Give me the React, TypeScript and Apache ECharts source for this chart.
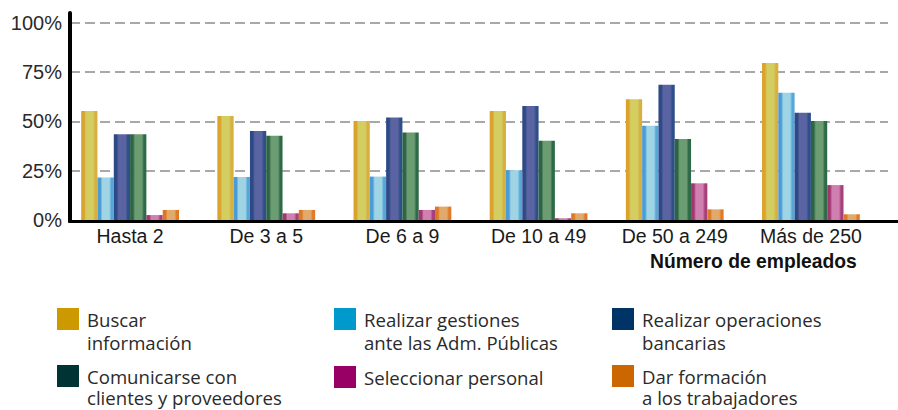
import React, { useEffect, useRef } from 'react';
import * as echarts from 'echarts';

const categories = ['Hasta 2', 'De 3 a 5', 'De 6 a 9', 'De 10 a 49', 'De 50 a 249', 'Más de 250'];
const seriesNames = [
  'Buscar información',
  'Realizar gestiones ante las Adm. Públicas',
  'Realizar operaciones bancarias',
  'Comunicarse con clientes y proveedores',
  'Seleccionar personal',
  'Dar formación a los trabajadores',
];
const legendLabels = [
  'Buscar\ninformación',
  'Realizar gestiones\nante las Adm. Públicas',
  'Realizar operaciones\nbancarias',
  'Comunicarse con\nclientes y proveedores',
  'Seleccionar personal',
  'Dar formación\na los trabajadores',
];
const buscar = [55.2, 52.7, 50.2, 55.2, 61.2, 79.6];
const gestiones = [21.6, 21.8, 22.0, 25.2, 47.8, 64.5];
const operaciones = [43.4, 45.1, 51.9, 57.8, 68.6, 54.4];
const comunicarse = [43.4, 42.7, 44.4, 40.2, 41.1, 50.2];
const seleccionar = [2.5, 3.4, 5.1, 0.9, 18.6, 17.7];
const formacion = [5.1, 5.1, 6.8, 3.4, 5.4, 2.9];
const seriesValues = [buscar, gestiones, operaciones, comunicarse, seleccionar, formacion];
const yMin = 0;
const yMax = 100;
const yInterval = 25;

const legendColors = ['#cc9900', '#0099cc', '#003366', '#003333', '#990066', '#cc6600'];
const barStops: [string, string, string][] = [
  ['#dba22c', '#d3cd62', '#d8b040'],
  ['#4a9cd6', '#9ed4e4', '#56a6da'],
  ['#2e4a86', '#5a64a2', '#2f4f88'],
  ['#2c6444', '#6c9c72', '#2e6a48'],
  ['#a0386f', '#cf7fb0', '#a64078'],
  ['#df7624', '#e2aa6a', '#e07a28'],
];

function grad(c: [string, string, string]) {
  return {
    type: 'linear', x: 0, y: 0, x2: 1, y2: 0,
    colorStops: [
      { offset: 0, color: c[0] },
      { offset: 0.18, color: c[0] },
      { offset: 0.3, color: c[1] },
      { offset: 0.72, color: c[1] },
      { offset: 0.85, color: c[2] },
      { offset: 1, color: c[2] },
    ],
  };
}

// icon left, icon top, line height
const legendPos = [
  [57, 308, 23], [334, 308, 23], [612, 308, 23],
  [57, 365, 21], [334, 366, 21], [612, 365, 21],
];

export default function App() {
  const ref = useRef<HTMLDivElement>(null);
  useEffect(() => {
    if (!ref.current) return;
    const chart = echarts.init(ref.current, undefined, { renderer: 'svg' });
    const axisFont = 'Liberation Sans, Arial, sans-serif';
    const option: any = {
      animation: false,
      backgroundColor: '#ffffff',
      title: {
        text: 'Número de empleados',
        left: 650,
        top: 252,
        padding: 0,
        textStyle: { fontFamily: axisFont, fontWeight: 'bold', fontSize: 19.3, color: '#111' },
      },
      grid: [
        { left: 62, right: 19, top: 22.7, bottom: 190 },
        { left: 70, right: 10, top: 22.7, bottom: 190 },
        { left: 69.5, right: 0, top: 13, bottom: 189 },
      ],
      xAxis: [
        {
          gridIndex: 0, type: 'category', data: categories,
          axisLine: { show: false }, axisTick: { show: false },
          axisLabel: { interval: 0, fontFamily: axisFont, fontSize: 19.5, color: '#1a1a1a', margin: 6 },
        },
        { gridIndex: 1, type: 'value', show: false, min: 0, max: 1 },
        {
          gridIndex: 2, type: 'value', min: 0, max: 1,
          axisLine: { show: true, onZero: false, lineStyle: { color: '#000', width: 3 } },
          axisTick: { show: false }, axisLabel: { show: false }, splitLine: { show: false },
        },
      ],
      yAxis: [
        { gridIndex: 0, type: 'value', min: yMin, max: yMax, show: false, splitLine: { show: false } },
        {
          gridIndex: 1, type: 'value', min: yMin, max: yMax, interval: yInterval,
          axisLine: { show: false }, axisTick: { show: false },
          axisLabel: { formatter: '{value}%', fontFamily: axisFont, fontSize: 20, color: '#2a2a2a', margin: 8 },
          splitLine: { show: true, showMinLine: false, lineStyle: { color: '#a8a8a8', width: 2, type: [10, 5] } },
        },
        {
          gridIndex: 2, type: 'value', min: 0, max: 1,
          axisLine: { show: true, onZero: false, lineStyle: { color: '#000', width: 4 } },
          axisTick: { show: false }, axisLabel: { show: false }, splitLine: { show: false },
        },
      ],
      legend: seriesNames.map((name, i) => {
        const twoLine = legendLabels[i].includes('\n');
        const lh = legendPos[i][2];
        return {
          data: [{ name, itemStyle: { color: legendColors[i] } }],
          left: legendPos[i][0],
          top: twoLine ? legendPos[i][1] - (3 * lh - 22) / 2 : legendPos[i][1],
          padding: 0,
          icon: 'rect',
          itemWidth: 22,
          itemHeight: 22,
          selectedMode: false,
          formatter: () => (twoLine ? '\u00a0\n' + legendLabels[i] : legendLabels[i]),
          textStyle: {
            fontFamily: 'Open Sans, sans-serif',
            fontSize: 18.6,
            color: '#2a2a2a',
            lineHeight: lh,
            padding: [0, 0, 0, 3],
          },
        };
      }),
      series: seriesNames.map((name, i) => ({
        name,
        type: 'bar',
        xAxisIndex: 0,
        yAxisIndex: 0,
        data: seriesValues[i],
        barWidth: 16.3,
        barGap: '0%',
        z: 3,
        itemStyle: { color: grad(barStops[i]) },
      })),
    };
    chart.setOption(option);
    return () => chart.dispose();
  }, []);
  return (
    <div
      ref={ref}
      style={{ position: 'absolute', left: 0, top: 0, width: 898, height: 410, background: '#fff' }}
    />
  );
}
